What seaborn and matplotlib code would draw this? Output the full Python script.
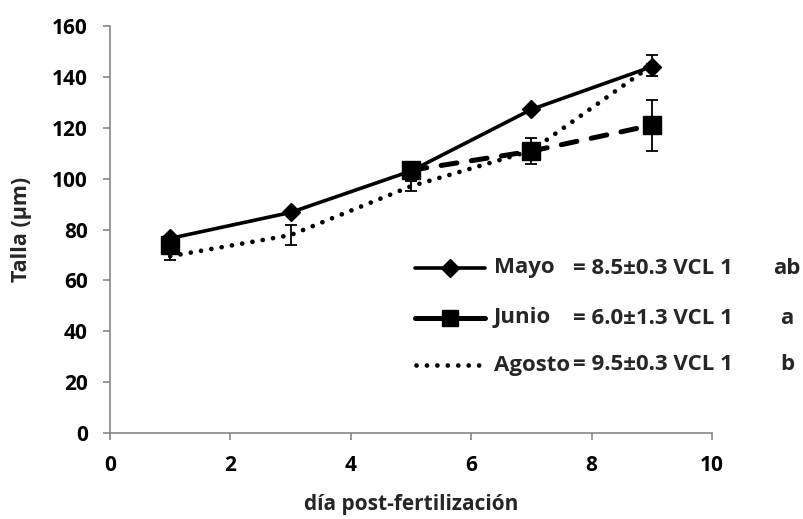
import numpy as np
import pandas as pd
import matplotlib
matplotlib.use("Agg")
import matplotlib.pyplot as plt
from matplotlib.lines import Line2D
import seaborn as sns

# Days post-fertilization and mean size (µm) per spawning month
dias = [1, 3, 5, 7, 9]
mayo = [76.5, 86.7, 103.0, 127.2, 144.0]
mayo_err = [1.0, 1.0, 1.5, 1.0, 1.0]
junio = [74.0, np.nan, 103.3, 110.8, 121.0]
junio_err = [1.5, np.nan, 1.5, 5.0, 10.0]
agosto = [69.5, 77.8, 97.0, 111.0, 144.5]
agosto_err = [1.5, 4.0, 2.0, 1.5, 4.0]

series_names = ["Mayo", "Junio", "Agosto"]
series_stats = ["= 8.5\u00b10.3 VCL 1", "= 6.0\u00b11.3 VCL 1", "= 9.5\u00b10.3 VCL 1"]
series_letters = ["ab", "a", "b"]

x_ticks = [0, 2, 4, 6, 8, 10]
y_ticks = [0, 20, 40, 60, 80, 100, 120, 140, 160]
x_label = "día post-fertilización"
y_label = "Talla (µm)"

sns.set_style("ticks")
plt.rcParams["font.family"] = ["Open Sans", "DejaVu Sans"]
plt.rcParams["font.weight"] = "bold"

W, H = 804, 519
fig = plt.figure(figsize=(W / 100, H / 100), dpi=100)
ax = fig.add_axes([110 / W, (H - 433) / H, (712 - 110) / W, 407 / H])

styles = {
    "Mayo": dict(linestyle="-", lw=2.6, marker="D", ms=9.5),
    "Junio": dict(linestyle=(0, (3.2, 2.9)), lw=3.6, marker="s", ms=13.5),
    "Agosto": dict(linestyle=(0, (0.01, 2.2)), lw=3.4, marker=None),
}

data = {"Mayo": (mayo, mayo_err), "Junio": (junio, junio_err),
        "Agosto": (agosto, agosto_err)}

for name in ["Agosto", "Mayo", "Junio"]:
    vals, errs = data[name]
    df = pd.DataFrame({"dia": dias, "talla": vals, "err": errs})
    # split into contiguous runs so missing days leave a gap in the line
    run_id = df["talla"].isna().cumsum()
    valid = df.dropna(subset=["talla"])
    st = styles[name]
    for _, seg in valid.groupby(run_id[valid.index]):
        sns.lineplot(data=seg, x="dia", y="talla", ax=ax, color="black",
                     linestyle=st["linestyle"], lw=st["lw"],
                     marker=st["marker"], markersize=st.get("ms", 0),
                     markeredgecolor="black", markeredgewidth=1,
                     dash_capstyle="round", solid_capstyle="butt",
                     estimator=None, sort=True, legend=False, zorder=3)
    ax.errorbar(valid["dia"], valid["talla"], yerr=valid["err"], fmt="none",
                ecolor="black", elinewidth=1.3, capsize=4, capthick=1.3,
                zorder=4)

ax.set_xlim(0, 10)
ax.set_ylim(0, 160)
ax.set_xticks(x_ticks)
ax.set_yticks(y_ticks)
ax.set_xticklabels([str(t) for t in x_ticks])
ax.set_yticklabels([str(t) for t in y_ticks])
sns.despine(ax=ax)
for sp in ["left", "bottom"]:
    ax.spines[sp].set_color("#868686")
    ax.spines[sp].set_linewidth(1.2)
ax.tick_params(axis="both", colors="#868686", length=5, width=1.2,
               labelcolor="black", labelsize=15)
ax.tick_params(axis="y", pad=11)
ax.tick_params(axis="x", pad=11)
for lab in ax.get_xticklabels() + ax.get_yticklabels():
    lab.set_fontweight("bold")
ax.set_xlabel(x_label, fontsize=15, fontweight="bold", labelpad=13)
ax.set_ylabel(y_label, fontsize=15.5, fontweight="bold", labelpad=14)

# Legend rows drawn in figure pixel coordinates
def fx(px):
    return px / W

def fy(py):
    return 1 - py / H

row_y = [268, 318, 365]
for name, stat, letter, py in zip(series_names, series_stats, series_letters, row_y):
    st = styles[name]
    if name == "Agosto":
        xs = [fx(416), fx(480)]
        ys = [fy(py), fy(py)]
        mk = dict()
    else:
        xs = [fx(415), fx(450), fx(485)]
        ys = [fy(py)] * 3
        mk = dict(marker=st["marker"], markevery=[1],
                  markersize=st["ms"] * (0.85 if name == "Junio" else 0.95),
                  markerfacecolor="black", markeredgecolor="black")
    ln = Line2D(xs, ys, transform=fig.transFigure, color="black",
                linestyle=st["linestyle"] if name != "Junio" else "-",
                lw=st["lw"], dash_capstyle="round", solid_capstyle="round", **mk)
    fig.add_artist(ln)
    fig.text(fx(494), fy(py), name, ha="left", va="center", fontsize=16,
             fontweight="bold")
    fig.text(fx(573), fy(py), stat, ha="left", va="center", fontsize=16,
             fontweight="bold")
    fig.text(fx(787), fy(py), letter, ha="center", va="center", fontsize=16,
             fontweight="bold")

fig.savefig("out.png", dpi=100)
